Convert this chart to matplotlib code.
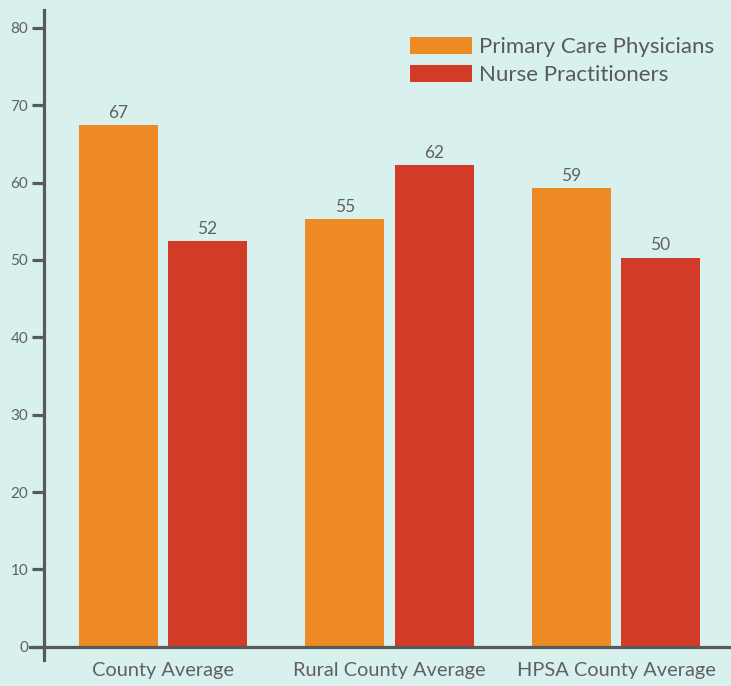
import matplotlib.pyplot as plt
import numpy as np

plt.rcParams['font.family'] = ['Lato', 'DejaVu Sans']

categories = ["County Average", "Rural County Average", "HPSA County Average"]
series_names = ["Primary Care Physicians", "Nurse Practitioners"]
physicians = [67.4, 55.3, 59.3]
nurses = [52.4, 62.3, 50.3]
yticks = [0, 10, 20, 30, 40, 50, 60, 70, 80]

bg = "#d9f1ee"
axis_col = "#58595b"
text_col = "#5f6062"
orange = "#ee8a24"
red = "#d23b27"

fig = plt.figure(figsize=(7.31, 6.86), dpi=100, facecolor=bg)
ax = fig.add_axes([30 / 731, 26 / 686, 701 / 731, 650 / 686])
ax.set_facecolor(bg)

x = np.arange(len(categories))
w = 0.349
off = 0.197
b1 = ax.bar(x - off, physicians, w, color=orange, label=series_names[0], zorder=2)
b2 = ax.bar(x + off, nurses, w, color=red, label=series_names[1], zorder=2)

for bars in (b1, b2):
    ax.bar_label(bars, labels=[str(int(b.get_height())) for b in bars],
                 padding=3, fontsize=12.5, color=text_col)

ax.set_xlim(-0.587, 2.508)
ax.set_ylim(-1.7, 82.3)

for s in ("top", "right"):
    ax.spines[s].set_visible(False)
ax.spines["bottom"].set_position(("data", 0))
ax.spines["left"].set_position(("data", -0.525))
for s in ("bottom", "left"):
    ax.spines[s].set_color(axis_col)
    ax.spines[s].set_linewidth(2.3)
    ax.spines[s].set_zorder(3)

ax.set_yticks(yticks)
ax.tick_params(axis="y", length=8.5, width=2.3, color=axis_col,
               labelsize=11, labelcolor=text_col, pad=3)
ax.set_xticks(x)
ax.set_xticklabels(categories)
ax.tick_params(axis="x", length=0, pad=11, labelsize=14.4, labelcolor=text_col)

ax.legend(loc="upper right", bbox_to_anchor=(1.005, 0.99), frameon=False,
          fontsize=16, handlelength=2.75, handleheight=0.8, handletextpad=0.35,
          labelspacing=0.35, labelcolor=axis_col)

fig.savefig("out.png", dpi=100, facecolor=bg)
